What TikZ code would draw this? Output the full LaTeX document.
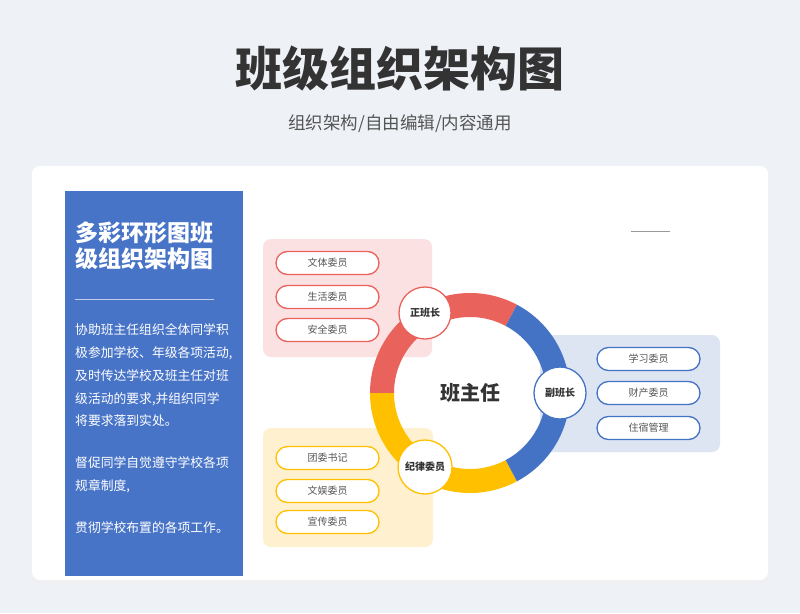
\documentclass[tikz,border=0pt]{standalone}
\usepackage{fontspec}
\setmainfont{Noto Sans CJK SC}
\usetikzlibrary{calc}
\definecolor{bgc}{HTML}{EEF1F6}
\definecolor{panelblue}{HTML}{4874C8}
\definecolor{ringred}{HTML}{E9625B}
\definecolor{ringblue}{HTML}{4472C4}
\definecolor{ringyellow}{HTML}{FFC000}
\definecolor{lightred}{HTML}{FBE1E1}
\definecolor{lightblue}{HTML}{DDE5F3}
\definecolor{lightyellow}{HTML}{FFF1CF}
\definecolor{txt}{HTML}{555555}
\definecolor{dark}{HTML}{333333}
\tikzset{
  pill/.style={draw=#1, line width=1.3pt, fill=white, rounded corners=11.5pt,
    minimum width=103pt, minimum height=23pt, inner sep=0pt,
    font=\fontsize{10}{12}\selectfont, text=txt},
  role/.style={circle, draw=#1, line width=1.3pt, fill=white, minimum size=52pt,
    inner sep=0pt, font=\fontsize{10}{12}\selectfont\bfseries, text=dark},
  paraline/.style={anchor=west, inner sep=0pt, text=white,
    font=\fontsize{12.8}{15}\selectfont},
  zone/.style={fill=#1, rounded corners=8pt}
}
\begin{document}
\begin{tikzpicture}[x=1pt,y=1pt]
\useasboundingbox (0,0) rectangle (800,-613);
\fill[bgc] (0,0) rectangle (800,-613);
% title
\node[font=\fontsize{47}{50}\selectfont\bfseries, text=dark] (title) at (400,-68) {班级组织架构图};
\node[font=\fontsize{17.5}{20}\selectfont, text=txt] (subtitle) at (400,-124) {组织架构/自由编辑/内容通用};
% card
\fill[black!6, rounded corners=9pt] (31,-168) rectangle (769,-583);
\fill[white, rounded corners=8pt] (32,-166) rectangle (768,-580);
% left panel
\fill[panelblue] (65,-191) rectangle (243,-576);
\node[anchor=west, inner sep=0pt, text=white, font=\fontsize{23}{26}\selectfont\bfseries] (lt1) at (75,-233) {多彩环形图班};
\node[anchor=west, inner sep=0pt, text=white, font=\fontsize{23}{26}\selectfont\bfseries] (lt2) at (75,-259) {级组织架构图};
\coordinate (ls) at (75,-299);
\coordinate (le) at (214,-299);
\draw[white!65!panelblue, line width=0.7pt] (ls) -- (le);
\node[paraline] (p1) at (75,-330) {协助班主任组织全体同学积};
\node[paraline] (p2) at (75,-353) {极参加学校、年级各项活动,};
\node[paraline] (p3) at (75,-376) {及时传达学校及班主任对班};
\node[paraline] (p4) at (75,-399) {级活动的要求,并组织同学};
\node[paraline] (p5) at (75,-421) {将要求落到实处。};
\node[paraline] (p6) at (75,-463) {督促同学自觉遵守学校各项};
\node[paraline] (p7) at (75,-486) {规章制度,};
\node[paraline] (p8) at (75,-528) {贯彻学校布置的各项工作。};
% grey dash
\coordinate (ga) at (631,-231);
\coordinate (gb) at (670,-231);
\draw[black!40, line width=1pt] (ga) -- (gb);
% zones
\fill[zone=lightred] (263,-239) rectangle (432,-357);
\fill[zone=lightblue] (540,-335) rectangle (720,-452);
\fill[zone=lightyellow] (263,-428) rectangle (433,-547);
% pills
\node[pill=ringred] (r1) at (327.5,-263) {文体委员};
\node[pill=ringred] (r2) at (327.5,-297) {生活委员};
\node[pill=ringred] (r3) at (327.5,-330) {安全委员};
\node[pill=ringblue] (b1) at (648.5,-359) {学习委员};
\node[pill=ringblue] (b2) at (648.5,-393) {财产委员};
\node[pill=ringblue] (b3) at (648.5,-428) {住宿管理};
\node[pill=ringyellow] (y1) at (327.5,-458) {团委书记};
\node[pill=ringyellow] (y2) at (327.5,-491) {文娱委员};
\node[pill=ringyellow] (y3) at (327.5,-522) {宣传委员};
% ring
\coordinate (c) at (470,-393);
\fill[ringred] (c) ++(62:100) arc[start angle=62, end angle=180, radius=100]
  -- ($(c)+(180:76)$) arc[start angle=180, end angle=62, radius=76] -- cycle;
\fill[ringyellow] (c) ++(180:100) arc[start angle=180, end angle=298, radius=100]
  -- ($(c)+(298:76)$) arc[start angle=298, end angle=180, radius=76] -- cycle;
\fill[ringblue] (c) ++(-62:100) arc[start angle=-62, end angle=62, radius=100]
  -- ($(c)+(62:76)$) arc[start angle=62, end angle=-62, radius=76] -- cycle;
\node[font=\fontsize{20}{22}\selectfont\bfseries, text=dark] (head) at (c) {班主任};
% roles
\node[role=ringred] (zb) at (425,-313) {正班长};
\node[role=ringblue] (fb) at (560,-393) {副班长};
\node[role=ringyellow, minimum size=54pt] (jl) at (425,-467) {纪律委员};
\end{tikzpicture}
\end{document}
